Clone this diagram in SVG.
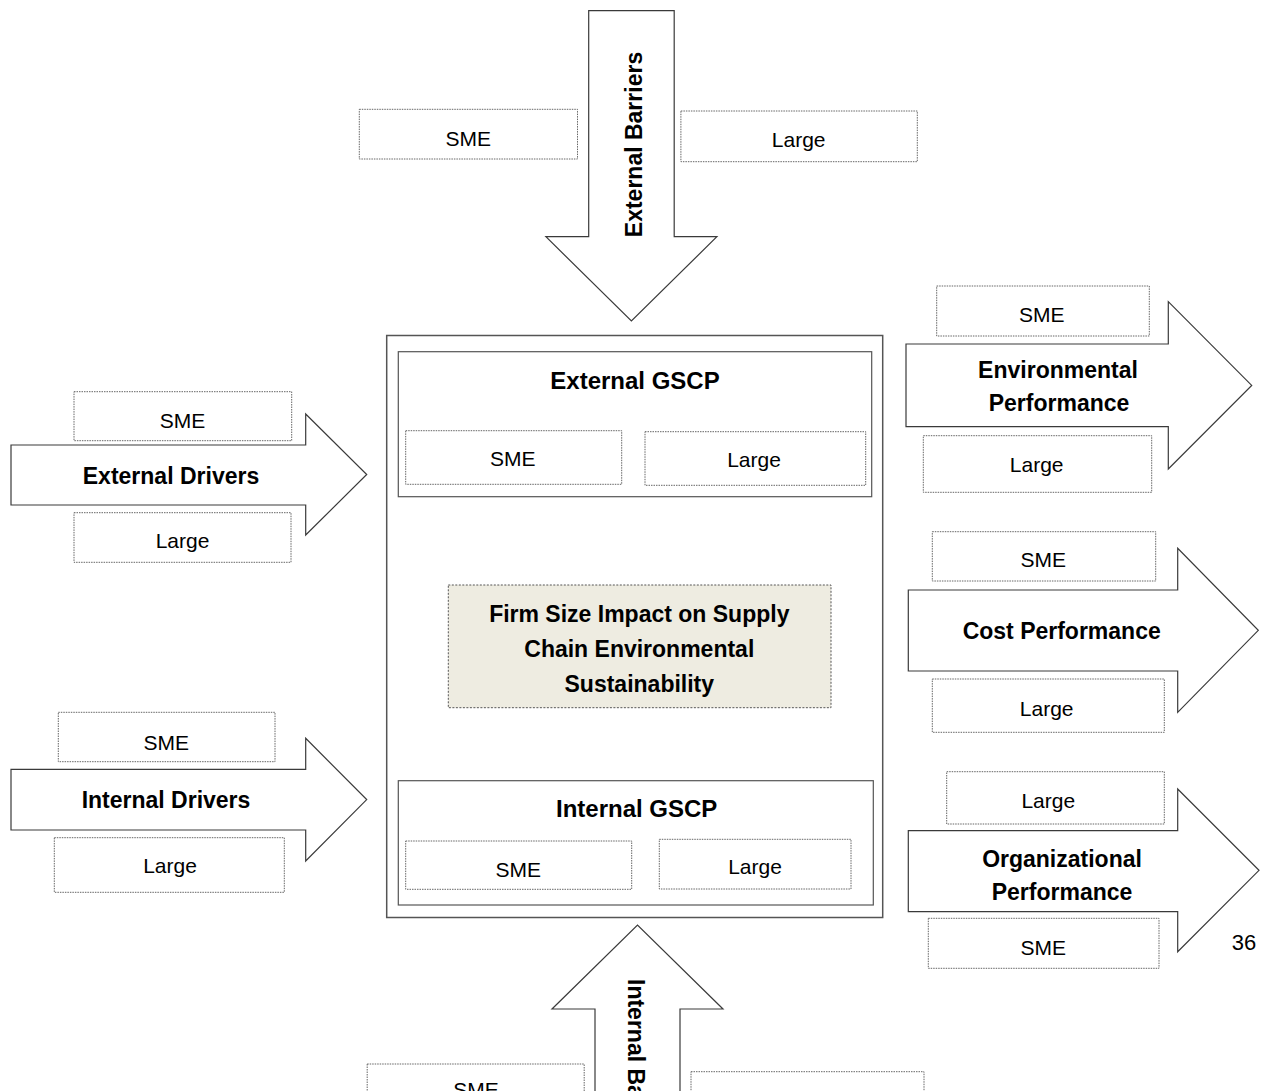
<svg xmlns="http://www.w3.org/2000/svg" width="1264" height="1091" viewBox="0 0 1264 1091">
<style>
.arrow{fill:#fff;stroke:#3a3a3a;stroke-width:1.2;stroke-linejoin:miter}
.frame{fill:#fff;stroke:#555;stroke-width:1.5}
.box{fill:#fff;stroke:#666;stroke-width:1;stroke-dasharray:1.5 1}
.core{fill:#EEECE1;stroke:#555;stroke-width:1;stroke-dasharray:2 1.5}
text{font-family:'Liberation Sans',Arial,sans-serif;fill:#000;text-anchor:middle}
.r{font-size:21px}
.b{font-size:23px;font-weight:bold}
.t{font-size:24px;font-weight:bold}
</style>
<rect width="1264" height="1091" fill="#fff"/>

<g id="connectors">
  <g id="ext-barriers-arrow">
    <polygon class="arrow" points="588.7,10.7 674.2,10.7 674.2,236.7 716.9,236.7 631.4,321 545.9,236.7 588.7,236.7"/>
    <text class="b" transform="translate(634,144.5) rotate(-90)" dy="0.35em">External Barriers</text>
  </g>
  <g id="int-barriers-arrow">
    <polygon class="arrow" points="595,1100 595,1009 552,1009 637.5,925 723,1009 680,1009 680,1100"/>
    <text class="b" transform="translate(636,979) rotate(90)" dy="0.35em" style="text-anchor:start">Internal Barriers</text>
  </g>
  <g id="ext-drivers-arrow">
    <polygon class="arrow" points="11,445 305.7,445 305.7,414 366.7,474.5 305.7,535 305.7,505 11,505"/>
    <text class="b" x="171" y="484">External Drivers</text>
  </g>
  <g id="int-drivers-arrow">
    <polygon class="arrow" points="11,769.3 305.7,769.3 305.7,738.3 366.7,799.6 305.7,861 305.7,830 11,830"/>
    <text class="b" x="166" y="808.3">Internal Drivers</text>
  </g>
  <g id="env-perf-arrow">
    <polygon class="arrow" points="906,344 1168.3,344 1168.3,301.7 1251.7,385.4 1168.3,469 1168.3,426.7 906,426.7"/>
    <text class="b" x="1058" y="378.3">Environmental</text>
    <text class="b" x="1059" y="411">Performance</text>
  </g>
  <g id="cost-perf-arrow">
    <polygon class="arrow" points="908.3,590 1177.7,590 1177.7,548.3 1258.3,630.3 1177.7,712.3 1177.7,671 908.3,671"/>
    <text class="b" x="1061.7" y="639">Cost Performance</text>
  </g>
  <g id="org-perf-arrow">
    <polygon class="arrow" points="908.3,830.7 1177.7,830.7 1177.7,789 1259,870.3 1177.7,951.7 1177.7,911.7 908.3,911.7"/>
    <text class="b" x="1062" y="866.7">Organizational</text>
    <text class="b" x="1062" y="900">Performance</text>
  </g>
</g>

<g id="ext-barriers-sme"><rect class="box" x="359.3" y="109.3" width="218.2" height="49.7"/><text class="r" x="468.2" y="145.7">SME</text></g>
<g id="ext-barriers-large"><rect class="box" x="680.9" y="111" width="236.4" height="50.7"/><text class="r" x="798.7" y="146.7">Large</text></g>

<g id="ext-drivers-sme"><rect class="box" x="74" y="391.7" width="217.7" height="49"/><text class="r" x="182.5" y="427.7">SME</text></g>
<g id="ext-drivers-large"><rect class="box" x="74" y="512.7" width="217" height="49.6"/><text class="r" x="182.5" y="548.3">Large</text></g>

<g id="int-drivers-sme"><rect class="box" x="58.3" y="712.3" width="216.7" height="49.4"/><text class="r" x="166.3" y="750">SME</text></g>
<g id="int-drivers-large"><rect class="box" x="54.3" y="837.7" width="230" height="54.6"/><text class="r" x="170" y="873.3">Large</text></g>

<g id="gscp-frame">
  <rect class="frame" x="386.7" y="335.5" width="496" height="582"/>
</g>
<g id="external-gscp">
  <rect class="frame" x="398.3" y="351.7" width="473.4" height="145" style="stroke-width:1.2"/>
  <text class="t" x="635" y="389.3">External GSCP</text>
</g>
<g id="ext-gscp-sme"><rect class="box" x="405.7" y="430.7" width="216" height="53.6"/><text class="r" x="512.7" y="466">SME</text></g>
<g id="ext-gscp-large"><rect class="box" x="645" y="431.7" width="220.7" height="53.6"/><text class="r" x="754" y="467.3">Large</text></g>

<g id="core">
  <rect class="core" x="448.3" y="585" width="382.7" height="122.7"/>
  <text class="b" x="639.3" y="621.7">Firm Size Impact on Supply</text>
  <text class="b" x="639.3" y="657.3">Chain Environmental</text>
  <text class="b" x="639.3" y="691.7">Sustainability</text>
</g>

<g id="internal-gscp">
  <rect class="frame" x="398.3" y="780.7" width="475" height="124.3" style="stroke-width:1.2"/>
  <text class="t" x="636.7" y="816.7">Internal GSCP</text>
</g>
<g id="int-gscp-sme"><rect class="box" x="405.7" y="841" width="226" height="48.3"/><text class="r" x="518.3" y="877.3">SME</text></g>
<g id="int-gscp-large"><rect class="box" x="659.3" y="839.3" width="191.7" height="49.7"/><text class="r" x="755" y="874.3">Large</text></g>

<g id="env-sme"><rect class="box" x="936.7" y="286" width="212.6" height="50"/><text class="r" x="1041.7" y="321.7">SME</text></g>
<g id="env-large"><rect class="box" x="923.3" y="435.7" width="228.4" height="56.6"/><text class="r" x="1036.7" y="472.3">Large</text></g>

<g id="cost-sme"><rect class="box" x="932.3" y="531.7" width="223.4" height="49.3"/><text class="r" x="1043.3" y="566.7">SME</text></g>
<g id="cost-large"><rect class="box" x="932.3" y="679" width="232" height="53.3"/><text class="r" x="1046.7" y="715.7">Large</text></g>

<g id="org-large"><rect class="box" x="946.7" y="771.7" width="217.6" height="52.3"/><text class="r" x="1048.3" y="807.7">Large</text></g>
<g id="org-sme"><rect class="box" x="928.3" y="918.3" width="230.7" height="50"/><text class="r" x="1043.3" y="955">SME</text></g>

<g id="int-barriers-sme"><rect class="box" x="367.2" y="1064" width="217" height="60"/><text class="r" x="476" y="1097">SME</text></g>
<g id="int-barriers-large"><rect class="box" x="691" y="1071.7" width="233" height="60"/><text class="r" x="807.5" y="1105">Large</text></g>

<text class="r" x="1244" y="950" style="font-size:22px">36</text>
</svg>
